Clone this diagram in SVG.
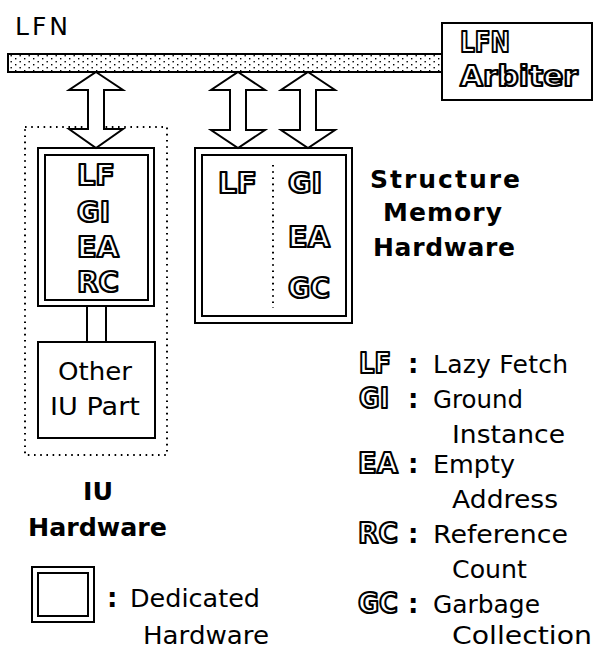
<svg xmlns="http://www.w3.org/2000/svg" width="595" height="650" viewBox="0 0 595 650">
<defs>
<pattern id="stip" width="9" height="6" patternUnits="userSpaceOnUse">
<rect width="9" height="6" fill="#fff"/>
<rect x="1.5" y="1" width="1.4" height="1.4" fill="#000"/>
<rect x="6" y="4" width="1.4" height="1.4" fill="#000"/>
</pattern>
<style>
.box{fill:#fff;stroke:#000;stroke-width:2}
.inner{fill:none;stroke:#000;stroke-width:2}
.dot{fill:none;stroke:#000;stroke-width:2;stroke-dasharray:1.6 4.6}
.arrow{fill:#fff;stroke:#000;stroke-width:2;stroke-linejoin:miter}
.reg{font-family:"DejaVu Sans","Liberation Sans",sans-serif;font-size:25px;fill:#000}
.bold{font-family:"DejaVu Sans","Liberation Sans",sans-serif;font-size:25px;font-weight:bold;fill:#000}
.out{font-family:"DejaVu Sans","Liberation Sans",sans-serif;font-size:28px;font-weight:bold;fill:#fff;stroke:#000;stroke-width:2.2;stroke-linejoin:round}
.col{font-family:"DejaVu Sans","Liberation Sans",sans-serif;font-size:26px;font-weight:bold;fill:#000}
</style>
</defs>
<rect width="595" height="650" fill="#fff"/>

<g id="lfn-label">
<text class="reg" x="15" y="35" textLength="53" lengthAdjust="spacing">LFN</text>
</g>

<g id="lfn-bus">
<rect x="8" y="54" width="434" height="18" fill="url(#stip)" stroke="#000" stroke-width="2"/>
</g>

<g id="lfn-arbiter">
<rect class="box" x="442" y="23" width="150" height="77"/>
<text class="out" x="460" y="52" textLength="50" lengthAdjust="spacingAndGlyphs">LFN</text>
<text class="out" x="460" y="86" textLength="118" lengthAdjust="spacingAndGlyphs">Arbiter</text>
</g>

<g id="iu-hardware">
<rect class="dot" x="25" y="127" width="142" height="328"/>
</g>

<g id="iu-dedicated">
<rect class="box" x="38" y="148" width="116" height="158"/>
<rect class="inner" x="45" y="155" width="103" height="145"/>
<text class="out" x="77" y="185" textLength="38" lengthAdjust="spacingAndGlyphs">LF</text>
<text class="out" x="77" y="222" textLength="33" lengthAdjust="spacingAndGlyphs">GI</text>
<text class="out" x="77" y="257" textLength="42" lengthAdjust="spacingAndGlyphs">EA</text>
<text class="out" x="77" y="292" textLength="42" lengthAdjust="spacingAndGlyphs">RC</text>
</g>

<g id="other-iu-part">
<rect class="box" x="38" y="342" width="117" height="96"/>
<text class="reg" x="58" y="380" textLength="74" lengthAdjust="spacingAndGlyphs">Other</text>
<text class="reg" x="50" y="415" textLength="90" lengthAdjust="spacingAndGlyphs">IU Part</text>
</g>

<g id="iu-label">
<text class="bold" x="83" y="500" textLength="30" lengthAdjust="spacingAndGlyphs">IU</text>
<text class="bold" x="28" y="536" textLength="139" lengthAdjust="spacingAndGlyphs">Hardware</text>
</g>

<g id="structure-memory">
<rect class="box" x="195" y="148" width="157" height="175"/>
<rect class="inner" x="202" y="155" width="144" height="161"/>
<line class="dot" x1="273" y1="165" x2="273" y2="308"/>
<text class="out" x="218" y="193" textLength="39" lengthAdjust="spacingAndGlyphs">LF</text>
<text class="out" x="288" y="193" textLength="34" lengthAdjust="spacingAndGlyphs">GI</text>
<text class="out" x="288" y="247" textLength="42" lengthAdjust="spacingAndGlyphs">EA</text>
<text class="out" x="288" y="298" textLength="42" lengthAdjust="spacingAndGlyphs">GC</text>
</g>

<g id="structure-label">
<text class="bold" x="370" y="188" textLength="150" lengthAdjust="spacing">Structure</text>
<text class="bold" x="383" y="221" textLength="119" lengthAdjust="spacing">Memory</text>
<text class="bold" x="373" y="256" textLength="142" lengthAdjust="spacing">Hardware</text>
</g>

<g id="legend-dedicated">
<rect class="box" x="32" y="567" width="62" height="55"/>
<rect class="inner" x="38" y="573" width="50" height="43"/>
<text class="col" x="107" y="607">:</text>
<text class="reg" x="130" y="607" textLength="130" lengthAdjust="spacingAndGlyphs">Dedicated</text>
<text class="reg" x="143" y="644" textLength="126" lengthAdjust="spacingAndGlyphs">Hardware</text>
</g>

<g id="legend-abbrev">
<text class="out" x="359" y="373" textLength="32" lengthAdjust="spacingAndGlyphs">LF</text>
<text class="col" x="408" y="373">:</text>
<text class="reg" x="433" y="373" textLength="135" lengthAdjust="spacing">Lazy Fetch</text>

<text class="out" x="359" y="408" textLength="30" lengthAdjust="spacingAndGlyphs">GI</text>
<text class="col" x="408" y="408">:</text>
<text class="reg" x="433" y="408" textLength="90" lengthAdjust="spacingAndGlyphs">Ground</text>
<text class="reg" x="452" y="443" textLength="113" lengthAdjust="spacingAndGlyphs">Instance</text>

<text class="out" x="358" y="473" textLength="40" lengthAdjust="spacingAndGlyphs">EA</text>
<text class="col" x="408" y="473">:</text>
<text class="reg" x="433" y="473" textLength="82" lengthAdjust="spacingAndGlyphs">Empty</text>
<text class="reg" x="452" y="508" textLength="106" lengthAdjust="spacingAndGlyphs">Address</text>

<text class="out" x="358" y="543" textLength="40" lengthAdjust="spacingAndGlyphs">RC</text>
<text class="col" x="408" y="543">:</text>
<text class="reg" x="433" y="543" textLength="135" lengthAdjust="spacingAndGlyphs">Reference</text>
<text class="reg" x="452" y="578" textLength="75" lengthAdjust="spacingAndGlyphs">Count</text>

<text class="out" x="358" y="613" textLength="40" lengthAdjust="spacingAndGlyphs">GC</text>
<text class="col" x="408" y="613">:</text>
<text class="reg" x="433" y="613" textLength="107" lengthAdjust="spacingAndGlyphs">Garbage</text>
<text class="reg" x="452" y="644" textLength="140" lengthAdjust="spacingAndGlyphs">Collection</text>
</g>

<g id="connectors">
<path class="arrow" d="M96,72 L123,90 L104,90 L104,129 L123,129 L96,148 L69,129 L88,129 L88,90 L69,90 Z"/>
<path class="arrow" d="M238,72 L265,90 L246,90 L246,130 L265,130 L238,148 L211,130 L230,130 L230,90 L211,90 Z"/>
<path class="arrow" d="M308,72 L335,90 L316,90 L316,130 L335,130 L308,148 L281,130 L300,130 L300,90 L281,90 Z"/>
<rect class="box" x="87" y="306" width="19" height="36"/>
</g>
</svg>
